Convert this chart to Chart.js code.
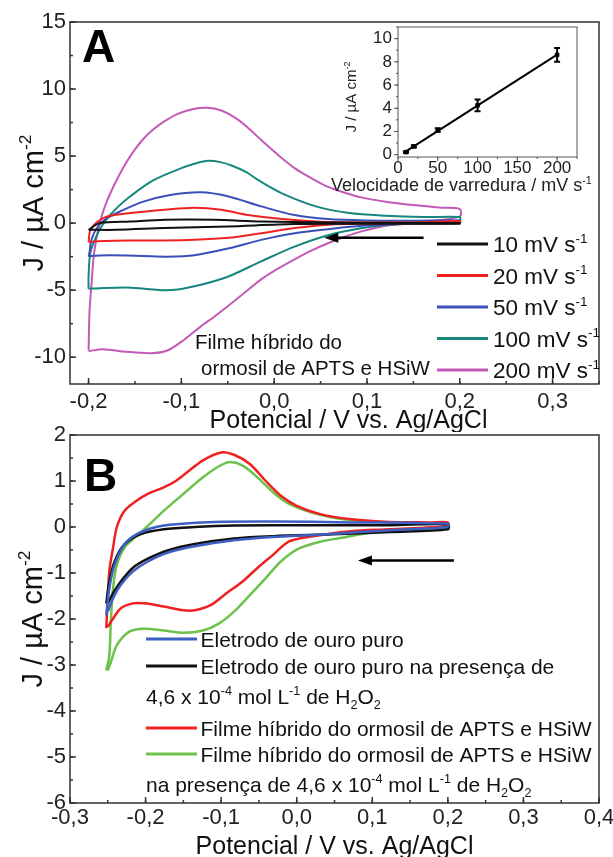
<!DOCTYPE html>
<html>
<head>
<meta charset="utf-8">
<script src="https://cdn.jsdelivr.net/npm/chart.js@4.4.1/dist/chart.umd.min.js"></script>
<style>
  body { margin: 0; background: #fff; }
  #wrap { position: relative; width: 613px; height: 857px; }
  canvas { position: absolute; }
</style>
</head>
<body>
<div id="wrap">
  <canvas id="chartA" width="613" height="432" style="left:0;top:0"></canvas>
  <canvas id="chartB" width="613" height="437" style="left:0;top:420px"></canvas>
  <canvas id="inset" width="285" height="185" style="left:320px;top:20px"></canvas>
</div>
<script>
// ---- Painel A: voltamogramas em varias velocidades (E / V, J / uA cm-2)
const labelsA = ['10 mV s^{-1}', '20 mV s^{-1}', '50 mV s^{-1}', '100 mV s^{-1}', '200 mV s^{-1}'];

const e10 = [-0.2, -0.188, -0.155, -0.118, -0.065, -0.014, 0.058, 0.2, 0.2, 0.1, 0.022, -0.05, -0.118, -0.17, -0.2];
const j10 = [-0.5, 0.0, 0.12, 0.25, 0.25, 0.12, 0.05, 0.0, -0.05, -0.05, -0.07, -0.25, -0.37, -0.5, -0.5];

const e20 = [-0.2, -0.198, -0.19, -0.18, -0.155, -0.118, -0.086, -0.057, -0.028, 0.009, 0.045, 0.1, 0.15, 0.2,
             0.2, 0.15, 0.1, 0.058, 0.022, -0.014, -0.05, -0.086, -0.118, -0.155, -0.19, -0.2];
const j20 = [-1.4, -0.5, 0.12, 0.5, 0.75, 1.0, 1.15, 1.0, 0.6, 0.3, 0.12, 0.05, 0.05, 0.15,
             0.0, -0.03, -0.05, -0.12, -0.37, -0.75, -1.1, -1.25, -1.3, -1.3, -1.35, -1.4];

const e50 = [-0.2, -0.199, -0.197, -0.19, -0.18, -0.166, -0.141, -0.112, -0.079, -0.05, -0.014, 0.022, 0.058, 0.1, 0.15, 0.2,
             0.2, 0.15, 0.095, 0.058, 0.022, -0.014, -0.05, -0.086, -0.115, -0.141, -0.177, -0.2];
const j50 = [-2.5, -2.2, -1.25, -0.25, 0.37, 0.87, 1.6, 2.1, 2.3, 2.0, 1.25, 0.6, 0.3, 0.2, 0.18, 0.2,
             0.0, -0.05, -0.2, -0.45, -0.75, -1.25, -1.9, -2.4, -2.5, -2.45, -2.4, -2.45];

const e100 = [-0.2, -0.2, -0.198, -0.19, -0.181, -0.17, -0.155, -0.13, -0.1, -0.085, -0.071, -0.058, -0.046, -0.03, -0.017,
              0.009, 0.045, 0.081, 0.12, 0.16, 0.2,
              0.2, 0.15, 0.12, 0.095, 0.058, 0.022, -0.014, -0.05, -0.079, -0.104, -0.122, -0.14, -0.159, -0.188, -0.2];
const j100 = [-4.9, -4.0, -2.2, -0.75, 0.25, 1.1, 2.0, 3.2, 4.1, 4.45, 4.65, 4.55, 4.3, 3.8, 3.2,
              2.2, 1.25, 0.75, 0.55, 0.45, 0.45,
              0.2, 0.0, -0.15, -0.37, -0.9, -1.75, -2.85, -4.0, -4.6, -4.95, -5.0, -4.9, -4.8, -4.85, -4.9];

const e200 = [-0.2, -0.199, -0.197, -0.194, -0.188, -0.181, -0.172, -0.163, -0.153, -0.142, -0.131, -0.118, -0.104,
              -0.088, -0.072, -0.057, -0.043, -0.028, -0.014, 0.004, 0.022, 0.04, 0.058, 0.077, 0.095, 0.12, 0.15, 0.18, 0.2,
              0.2, 0.17, 0.14, 0.12, 0.095, 0.077, 0.058, 0.04, 0.022, 0.004, -0.014, -0.032, -0.05, -0.065, -0.079,
              -0.097, -0.115, -0.133, -0.159, -0.185, -0.2];
const j200 = [-9.5, -6.6, -4.7, -2.2, 0, 1.5, 2.9, 4.1, 5.2, 6.2, 6.95, 7.6, 8.15,
              8.5, 8.6, 8.4, 7.9, 7.1, 6.2, 5.1, 4.1, 3.35, 2.7, 2.25, 1.9, 1.6, 1.35, 1.15, 1.05,
              0.5, 0.15, -0.05, -0.2, -0.6, -1.0, -1.5, -2.05, -2.7, -3.4, -4.2, -5.2, -6.2, -7.0, -7.7,
              -8.7, -9.5, -9.7, -9.6, -9.4, -9.55];

// ---- Insercao: corrente de pico x velocidade de varredura
const scanRates = [10, 20, 50, 100, 200];
const peakJ = [0.22, 0.72, 2.12, 4.25, 8.6];
const peakErr = [0.05, 0.1, 0.15, 0.5, 0.6];

// ---- Painel B: ouro puro x filme hibrido, com e sem H2O2
const labelsB = ['Eletrodo de ouro puro', 'Eletrodo de ouro puro na presença de',
                 'Filme híbrido do ormosil de APTS e HSiW', 'Filme híbrido do ormosil de APTS e HSiW'];

const eAu = [-0.252, -0.248, -0.241, -0.228, -0.212, -0.186, -0.16, -0.109, -0.031, 0.072, 0.2,
             0.2, 0.124, 0.047, -0.031, -0.083, -0.135, -0.171, -0.197, -0.217, -0.233, -0.243, -0.25];
const jAu = [-1.92, -1.33, -0.82, -0.38, -0.16, 0, 0.06, 0.11, 0.12, 0.1, 0.07,
             0, -0.07, -0.15, -0.22, -0.29, -0.42, -0.56, -0.75, -0.97, -1.26, -1.55, -1.84];

const eAuH = [-0.252, -0.248, -0.241, -0.228, -0.207, -0.176, -0.135, -0.083, 0.021, 0.124, 0.2,
              0.2, 0.124, 0.047, -0.031, -0.083, -0.135, -0.171, -0.197, -0.217, -0.233, -0.243, -0.25];
const jAuH = [-1.66, -1.19, -0.75, -0.38, -0.16, -0.05, 0, 0.03, 0.04, 0.04, 0.06,
              -0.05, -0.11, -0.16, -0.2, -0.25, -0.37, -0.51, -0.69, -0.89, -1.19, -1.44, -1.66];

const eFilm = [-0.252, -0.248, -0.243, -0.238, -0.228, -0.212, -0.197, -0.176, -0.16, -0.145, -0.124, -0.1, -0.083,
               -0.062, -0.041, -0.021, 0, 0.031, 0.072, 0.124, 0.176, 0.2,
               0.2, 0.124, 0.072, 0.021, -0.01, -0.031, -0.052, -0.072, -0.093, -0.114, -0.135, -0.15, -0.176,
               -0.202, -0.217, -0.233, -0.243, -0.25];
const jFilm = [-2.2, -0.97, -0.45, 0, 0.35, 0.57, 0.72, 0.86, 1.0, 1.19, 1.45, 1.62, 1.57,
               1.37, 1.0, 0.68, 0.46, 0.28, 0.17, 0.11, 0.1, 0.1,
               0.02, -0.05, -0.09, -0.2, -0.31, -0.6, -0.89, -1.19, -1.44, -1.7, -1.81, -1.81, -1.73,
               -1.66, -1.66, -1.77, -1.99, -2.17];

const eFilmH = [-0.252, -0.248, -0.246, -0.243, -0.238, -0.228, -0.212, -0.199, -0.176, -0.15, -0.124, -0.103, -0.09,
                -0.072, -0.052, -0.031, -0.01, 0.021, 0.062, 0.124, 0.2,
                0.2, 0.15, 0.098, 0.062, 0.031, 0, -0.021, -0.041, -0.062, -0.083, -0.103, -0.124, -0.15, -0.176,
                -0.202, -0.222, -0.238, -0.246, -0.25];
const jFilmH = [-3.12, -2.8, -2.06, -1.33, -0.82, -0.45, -0.2, -0.01, 0.35, 0.72, 1.08, 1.32, 1.41,
                1.34, 1.08, 0.75, 0.5, 0.31, 0.17, 0.1, 0.06,
                -0.01, -0.05, -0.12, -0.23, -0.32, -0.49, -0.75, -1.11, -1.48, -1.84, -2.1, -2.25, -2.3, -2.25,
                -2.21, -2.28, -2.57, -2.94, -3.12];

const FONT = '"Liberation Sans", Arial, sans-serif';
Chart.defaults.font.family = FONT;
Chart.defaults.color = '#222';

// text with ^{sup} and _{sub}; y is the middle of the capitals
function richText(ctx, str, x, y, size, align) {
  const parts = [];
  const re = /([\^_])\{([^}]*)\}/g;
  let last = 0, m;
  while ((m = re.exec(str))) {
    if (m.index > last) parts.push([str.slice(last, m.index), 0]);
    parts.push([m[2], m[1] === '^' ? 1 : -1]);
    last = re.lastIndex;
  }
  if (last < str.length) parts.push([str.slice(last), 0]);
  const small = size * 0.6;
  let w = 0;
  parts.forEach(p => { ctx.font = (p[1] ? small : size) + 'px ' + FONT; w += ctx.measureText(p[0]).width; });
  let cx = align === 'center' ? x - w / 2 : (align === 'right' ? x - w : x);
  const base = y + size * 0.36;
  ctx.textAlign = 'left';
  ctx.textBaseline = 'alphabetic';
  parts.forEach(p => {
    ctx.font = (p[1] ? small : size) + 'px ' + FONT;
    const dy = p[1] === 1 ? -size * 0.42 : (p[1] === -1 ? size * 0.25 : 0);
    ctx.fillText(p[0], cx, base + dy);
    cx += ctx.measureText(p[0]).width;
  });
}

function frameAndTicks(chart, o) {
  const { ctx, chartArea: a, scales: { x, y } } = chart;
  ctx.save();
  ctx.strokeStyle = o.color;
  ctx.lineWidth = o.width;
  ctx.strokeRect(a.left, a.top, a.right - a.left, a.bottom - a.top);
  const dir = o.inward ? -1 : 1;
  const marks = (axis, step, len) => {
    const first = Math.ceil(axis.min / step - 1e-9);
    for (let k = first; k * step <= axis.max + 1e-9; k++) {
      const p = axis.getPixelForValue(k * step);
      ctx.beginPath();
      if (axis === x) { ctx.moveTo(p, a.bottom); ctx.lineTo(p, a.bottom + dir * len); }
      else { ctx.moveTo(a.left, p); ctx.lineTo(a.left - dir * len, p); }
      ctx.stroke();
    }
  };
  marks(x, o.xMinor, o.minorLen);
  marks(x, o.xMajor, o.majorLen);
  marks(y, o.yMinor, o.minorLen);
  marks(y, o.yMajor, o.majorLen);
  ctx.restore();
}

function arrowLeft(chart, xFrom, xTo, yVal) {
  const { ctx, scales: { x, y } } = chart;
  const x1 = x.getPixelForValue(xFrom), x2 = x.getPixelForValue(xTo), py = y.getPixelForValue(yVal);
  ctx.save();
  ctx.strokeStyle = '#000'; ctx.fillStyle = '#000'; ctx.lineWidth = 2.5;
  ctx.beginPath(); ctx.moveTo(x1, py); ctx.lineTo(x2 + 10, py); ctx.stroke();
  ctx.beginPath(); ctx.moveTo(x2, py); ctx.lineTo(x2 + 14, py - 5); ctx.lineTo(x2 + 14, py + 5); ctx.closePath(); ctx.fill();
  ctx.restore();
}

function cv(label, xs, ys, color, width) {
  return {
    label, data: xs.map((v, i) => ({ x: v, y: ys[i] })),
    borderColor: color, backgroundColor: color, borderWidth: width,
    pointRadius: 0, showLine: true, tension: 0.3, fill: false
  };
}

const comma = v => v.toFixed(1).replace('.', ',').replace('-0,0', '0,0');
const baseOpts = { responsive: false, animation: false, events: [], plugins: { legend: { display: false }, tooltip: { enabled: false } } };

// ---------------- Painel A
const colorsA = ['#111111', '#ee2222', '#3b4fb8', '#17867c', '#c35ab8'];
new Chart(document.getElementById('chartA'), {
  type: 'scatter',
  data: {
    datasets: [
      cv(labelsA[0], e10, j10, colorsA[0], 2),
      cv(labelsA[1], e20, j20, colorsA[1], 2),
      cv(labelsA[2], e50, j50, colorsA[2], 2),
      cv(labelsA[3], e100, j100, colorsA[3], 2),
      cv(labelsA[4], e200, j200, colorsA[4], 2)
    ]
  },
  options: Object.assign({}, baseOpts, {
    layout: { padding: { top: 22, right: 14, left: 0, bottom: 0 } },
    scales: {
      x: {
        type: 'linear', min: -0.22, max: 0.35,
        grid: { display: false, drawTicks: false }, border: { display: false },
        ticks: { stepSize: 0.1, includeBounds: false, padding: 5, font: { size: 22 }, callback: comma, maxRotation: 0 },
        afterFit: s => { s.height = 48; s.paddingLeft = 0; s.paddingRight = 0; }
      },
      y: {
        min: -12, max: 15,
        grid: { display: false, drawTicks: false }, border: { display: false },
        ticks: { stepSize: 5, includeBounds: false, padding: 4, font: { size: 22 } },
        afterFit: s => { s.width = 70; s.paddingTop = 0; s.paddingBottom = 0; }
      }
    }
  }),
  plugins: [{
    id: 'decorA',
    afterDraw(chart) {
      const { ctx, chartArea: a } = chart;
      frameAndTicks(chart, { color: '#333', width: 1.5, inward: true, xMajor: 0.1, xMinor: 0.05, yMajor: 5, yMinor: 2.5, majorLen: 6, minorLen: 3 });
      ctx.save();
      ctx.fillStyle = '#000';
      ctx.font = 'bold 46px ' + FONT;
      ctx.textAlign = 'left'; ctx.textBaseline = 'alphabetic';
      ctx.fillText('A', a.left + 12, a.top + 40);
      // legenda
      chart.data.datasets.forEach((ds, i) => {
        const ry = a.top + 222 + i * 31.5;
        ctx.strokeStyle = ds.borderColor; ctx.lineWidth = 3;
        ctx.beginPath(); ctx.moveTo(a.left + 367, ry); ctx.lineTo(a.left + 418, ry); ctx.stroke();
        ctx.fillStyle = '#111';
        richText(ctx, ds.label, a.left + 423, ry, 22.5, 'left');
      });
      ctx.fillStyle = '#111';
      richText(ctx, 'Filme híbrido do', a.left + 125, a.top + 320, 20.5, 'left');
      richText(ctx, 'ormosil de APTS e HSiW', a.left + 131, a.top + 346, 20.5, 'left');
      // titulos dos eixos
      richText(ctx, 'Potencial / V vs. Ag/AgCl', (a.left + a.right) / 2 + 14, a.bottom + 35, 25, 'center');
      ctx.translate(33, (a.top + a.bottom) / 2);
      ctx.rotate(-Math.PI / 2);
      richText(ctx, 'J / µA cm^{-2}', 0, 0, 29, 'center');
      ctx.restore();
      arrowLeft(chart, 0.161, 0.054, -1.1);
    }
  }]
});

// ---------------- Insercao
const n = scanRates.length;
const mx = scanRates.reduce((s, v) => s + v, 0) / n;
const my = peakJ.reduce((s, v) => s + v, 0) / n;
let sxy = 0, sxx = 0;
scanRates.forEach((v, i) => { sxy += (v - mx) * (peakJ[i] - my); sxx += (v - mx) * (v - mx); });
const slope = sxy / sxx, intercept = my - slope * mx;
const fitX = [scanRates[0], scanRates[n - 1]];

new Chart(document.getElementById('inset'), {
  type: 'scatter',
  data: {
    datasets: [
      { data: scanRates.map((v, i) => ({ x: v, y: peakJ[i] })), pointStyle: 'rect', pointRadius: 2.5,
        backgroundColor: '#000', borderColor: '#000', showLine: false },
      { data: fitX.map(v => ({ x: v, y: intercept + slope * v })), showLine: true, pointRadius: 0,
        borderColor: '#000', borderWidth: 2 }
    ]
  },
  options: Object.assign({}, baseOpts, {
    layout: { padding: { top: 7, right: 28, left: 0, bottom: 0 } },
    scales: {
      x: {
        type: 'linear', min: 0, max: 225,
        grid: { display: false, drawTicks: false }, border: { display: false },
        ticks: { stepSize: 50, includeBounds: false, padding: 1, font: { size: 17 }, maxRotation: 0 },
        afterFit: s => { s.height = 48; s.paddingLeft = 0; s.paddingRight = 0; }
      },
      y: {
        min: -0.2, max: 11,
        grid: { display: false, drawTicks: false }, border: { display: false },
        ticks: { stepSize: 2, includeBounds: false, padding: 6, font: { size: 17 } },
        afterFit: s => { s.width = 78; s.paddingTop = 0; s.paddingBottom = 0; }
      }
    }
  }),
  plugins: [{
    id: 'decorInset',
    afterDatasetsDraw(chart) {
      const { ctx, scales: { x, y } } = chart;
      ctx.save();
      ctx.strokeStyle = '#000'; ctx.lineWidth = 2;
      scanRates.forEach((v, i) => {
        const px = x.getPixelForValue(v);
        const t = y.getPixelForValue(peakJ[i] + peakErr[i]), b = y.getPixelForValue(peakJ[i] - peakErr[i]);
        ctx.beginPath();
        ctx.moveTo(px, t); ctx.lineTo(px, b);
        ctx.moveTo(px - 3, t); ctx.lineTo(px + 3, t);
        ctx.moveTo(px - 3, b); ctx.lineTo(px + 3, b);
        ctx.stroke();
      });
      ctx.restore();
    },
    afterDraw(chart) {
      const { ctx, chartArea: a } = chart;
      frameAndTicks(chart, { color: '#555', width: 1, inward: false, xMajor: 50, xMinor: 25, yMajor: 2, yMinor: 1, majorLen: 4, minorLen: 2 });
      ctx.save();
      ctx.fillStyle = '#222';
      richText(ctx, 'Velocidade de varredura / mV s^{-1}', 11, 165, 18, 'left');
      ctx.translate(31, (a.top + a.bottom) / 2 + 5);
      ctx.rotate(-Math.PI / 2);
      richText(ctx, 'J / µA cm^{-2}', 0, 0, 15, 'center');
      ctx.restore();
    }
  }]
});

// ---------------- Painel B
const colorsB = ['#3d5fc4', '#111111', '#ee2020', '#6cc24a'];
new Chart(document.getElementById('chartB'), {
  type: 'scatter',
  data: {
    datasets: [
      cv(labelsB[0], eAu, jAu, colorsB[0], 2.5),
      cv(labelsB[1], eAuH, jAuH, colorsB[1], 2.5),
      cv(labelsB[2], eFilm, jFilm, colorsB[2], 2.5),
      cv(labelsB[3], eFilmH, jFilmH, colorsB[3], 2.5)
    ]
  },
  options: Object.assign({}, baseOpts, {
    layout: { padding: { top: 15, right: 14, left: 0, bottom: 0 } },
    scales: {
      x: {
        type: 'linear', min: -0.3, max: 0.4,
        grid: { display: false, drawTicks: false }, border: { display: false },
        ticks: { stepSize: 0.1, padding: 2, font: { size: 22 }, callback: comma, maxRotation: 0 },
        afterFit: s => { s.height = 54; s.paddingLeft = 0; s.paddingRight = 0; }
      },
      y: {
        min: -6, max: 2,
        grid: { display: false, drawTicks: false }, border: { display: false },
        ticks: { stepSize: 1, padding: 4, font: { size: 22 } },
        afterFit: s => { s.width = 70; s.paddingTop = 0; s.paddingBottom = 0; }
      }
    }
  }),
  plugins: [{
    id: 'decorB',
    afterDraw(chart) {
      const { ctx, chartArea: a } = chart;
      frameAndTicks(chart, { color: '#333', width: 1.5, inward: true, xMajor: 0.1, xMinor: 0.05, yMajor: 1, yMinor: 0.5, majorLen: 6, minorLen: 3 });
      ctx.save();
      ctx.fillStyle = '#000';
      ctx.font = 'bold 46px ' + FONT;
      ctx.textAlign = 'left'; ctx.textBaseline = 'alphabetic';
      ctx.fillText('B', a.left + 14, a.top + 56);
      const rows = [204, 231, 293, 319];
      chart.data.datasets.forEach((ds, i) => {
        const ry = a.top + rows[i];
        ctx.strokeStyle = ds.borderColor; ctx.lineWidth = 3;
        ctx.beginPath(); ctx.moveTo(a.left + 76, ry); ctx.lineTo(a.left + 127, ry); ctx.stroke();
        ctx.fillStyle = '#111';
        richText(ctx, ds.label, a.left + 130.5, ry, 21, 'left');
      });
      richText(ctx, '4,6 x 10^{-4} mol L^{-1} de H_{2}O_{2}', a.left + 76, a.top + 261, 21, 'left');
      richText(ctx, 'na presença de 4,6 x 10^{-4} mol L^{-1} de H_{2}O_{2}', a.left + 76, a.top + 349, 21, 'left');
      richText(ctx, 'Potencial / V vs. Ag/AgCl', (a.left + a.right) / 2, a.bottom + 42, 25, 'center');
      ctx.translate(32, (a.top + a.bottom) / 2);
      ctx.rotate(-Math.PI / 2);
      richText(ctx, 'J / µA cm^{-2}', 0, 0, 29, 'center');
      ctx.restore();
      arrowLeft(chart, 0.208, 0.081, -0.73);
    }
  }]
});
</script>
</body>
</html>
